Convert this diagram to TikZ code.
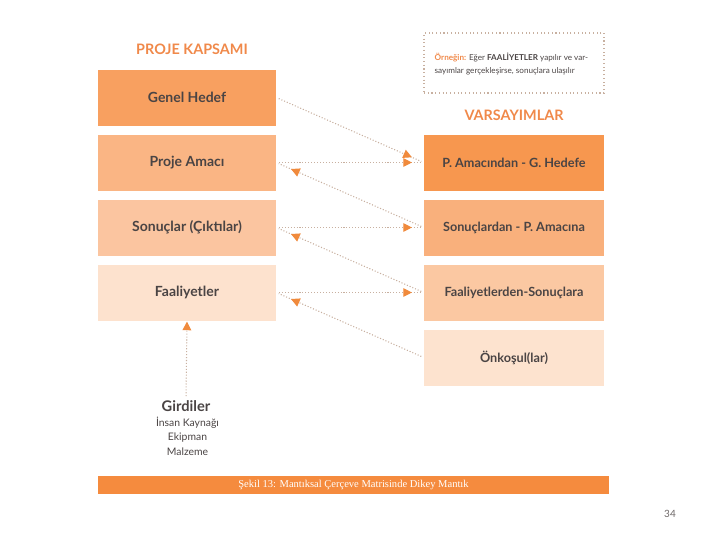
\documentclass[tikz,border=0pt]{standalone}
\usepackage{fontspec}
\setmainfont{Lato}
\newfontfamily\capfont{Liberation Serif}
\usetikzlibrary{arrows.meta,decorations.markings}
\definecolor{cA}{HTML}{F8A060}
\definecolor{cB}{HTML}{FAB584}
\definecolor{cC}{HTML}{FBC5A0}
\definecolor{cD}{HTML}{FDE2CE}
\definecolor{rA}{HTML}{F7974F}
\definecolor{rB}{HTML}{F9B07C}
\definecolor{rC}{HTML}{FBC8A2}
\definecolor{rD}{HTML}{FDE3CF}
\definecolor{txt}{HTML}{4A4444}
\definecolor{ttl}{HTML}{F0894A}
\definecolor{dotc}{HTML}{C8B0A0}
\definecolor{tip}{HTML}{F08A3C}
\definecolor{bar}{HTML}{F58B3E}
\definecolor{pgc}{HTML}{6E6868}
\tikzset{
  lbox/.style={minimum width=178*0.75pt, minimum height=56*0.75pt, inner sep=0pt,
     font=\fontsize{10.5}{12}\selectfont\bfseries, text=txt},
  rbox/.style={minimum width=180*0.75pt, minimum height=56*0.75pt, inner sep=0pt,
     font=\fontsize{9.5}{12}\selectfont\bfseries, text=txt},
  ttlstyle/.style={font=\fontsize{10.8}{12}\selectfont\bfseries, text=ttl},
  link/.style={draw=dotc, line width=0.8pt, dash pattern=on 0.8pt off 1.4pt,
     shorten <=2pt, shorten >=2pt,
     postaction={decorate, decoration={markings,
       mark=at position #1 with {\arrow{Triangle[length=6.5pt,width=6.5pt,color=tip,fill=tip]}}}}},
  link/.default=0.92
}
\begin{document}
\begin{tikzpicture}[x=0.75pt,y=-0.75pt]
\useasboundingbox (0,0) rectangle (720,540);
% titles
\node[ttlstyle] (t1) at (192,49) {PROJE KAPSAMI};
\node[ttlstyle] (t2) at (514,115) {VARSAYIMLAR};
% left column
\node[lbox, fill=cA] (gh) at (187,97.5) {Genel Hedef};
\node[lbox, fill=cB] (pa) at (187,162.5) {Proje Amacı};
\node[lbox, fill=cC] (so) at (187,227.5) {Sonuçlar (Çıktılar)};
\node[lbox, fill=cD] (fa) at (187,292.5) {Faaliyetler};
% right column
\node[rbox, fill=rA] (ra) at (514,162.5) {P. Amacından - G. Hedefe};
\node[rbox, fill=rB] (rb) at (514,227.5) {Sonuçlardan - P. Amacına};
\node[rbox, fill=rC] (rc) at (514,292.5) {Faaliyetlerden-Sonuçlara};
\node[rbox, fill=rD] (rd) at (514,357.5) {Önkoşul(lar)};
% example box
\node[draw=dotc, dotted, line width=0.8pt, minimum width=180*0.75pt, minimum height=60*0.75pt,
      inner sep=0pt] (ex) at (514,63) {};
\node[anchor=west, align=left, font=\fontsize{6.1}{10.2}\selectfont, text=txt] (ext) at (430,64)
  {{\color{ttl}\bfseries Örneğin:} Eğer {\bfseries FAALİYETLER} yapılır ve var-\\sayımlar gerçekleşirse, sonuçlara ulaşılır};
% inputs
\node[text=txt, inner sep=1pt, font=\fontsize{11}{13}\selectfont\bfseries] (gi) at (186,406) {Girdiler};
\node[text=txt, inner sep=1pt, align=center, font=\fontsize{7.8}{11.2}\selectfont, anchor=north] (gl) at (187.5,415)
  {İnsan Kaynağı\\Ekipman\\Malzeme};
% connectors
\draw[link] (gh.east) -- (ra.west);
\draw[link] (pa.east) -- (ra.west);
\draw[link=0.9] (rb.west) -- (pa.east);
\draw[link] (so.east) -- (rb.west);
\draw[link=0.9] (rc.west) -- (so.east);
\draw[link] (fa.east) -- (rc.west);
\draw[link=0.9] (rd.west) -- (fa.east);
\draw[link=0.99] (gi.north) -- (fa.south);
% caption bar
\node[fill=bar, minimum width=511*0.75pt, minimum height=18*0.75pt, inner sep=0pt,
      text=white, font=\capfont\fontsize{7.9}{9}\selectfont] (cap) at (353.5,485)
  {Şekil 13: Mantıksal Çerçeve Matrisinde Dikey Mantık};
\node[text=pgc, font=\fontsize{7.5}{9}\selectfont] (pg) at (670,514) {34};
\end{tikzpicture}
\end{document}
